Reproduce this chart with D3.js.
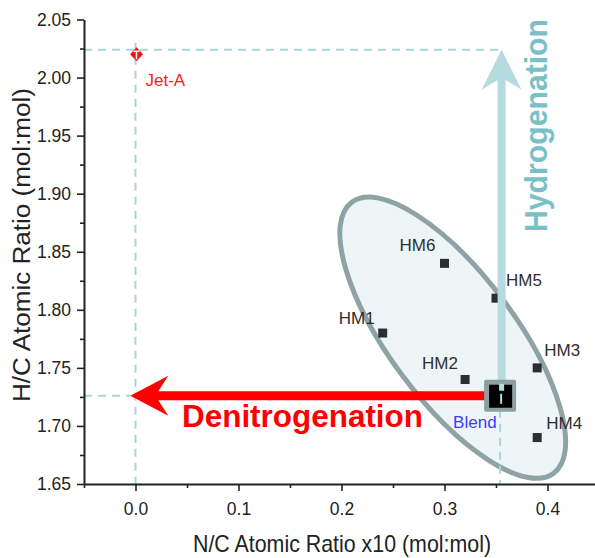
<!DOCTYPE html>
<html>
<head>
<meta charset="utf-8">
<script src="https://cdn.jsdelivr.net/npm/d3@7"></script>
<style>
  body { margin: 0; background: #fff; }
  svg { display: block; font-family: "Liberation Sans", Arial, sans-serif; }
</style>
</head>
<body>
<div id="chart"></div>
<script>
// sample points
const sampleNames = ["HM1", "HM2", "HM3", "HM4", "HM5", "HM6"]
const sampleNC = [0.24, 0.32, 0.39, 0.39, 0.35, 0.30]
const sampleHC = [1.78, 1.74, 1.75, 1.69, 1.81, 1.84]

// reference fuels
const jetA = { name: "Jet-A", nc: 0.0, hc: 2.02 }
const blend = { name: "Blend", nc: 0.354, hc: 1.726 }

// arrow end values
const hydroTargetHC = 2.024
const denitTargetNC = -0.005

// cluster ellipse centre
const clusterNC = 0.308
const clusterHC = 1.776

const xTicks = [0.0, 0.1, 0.2, 0.3, 0.4]
const xMinor = [-0.05, 0.05, 0.15, 0.25, 0.35, 0.45]
const yTicks = [1.65, 1.70, 1.75, 1.80, 1.85, 1.90, 1.95, 2.00, 2.05]
const yMinor = [1.675, 1.725, 1.775, 1.825, 1.875, 1.925, 1.975, 2.025]

const W = 595, H = 558

const svg = d3.select("#chart").append("svg")
    .attr("width", W)
    .attr("height", H)

const x = d3.scaleLinear().domain([-0.05, 0.45]).range([84, 599])
const y = d3.scaleLinear().domain([1.65, 2.05]).range([484, 19.5])

const dashColor = "#a9d5dc"
const ellStroke = "#8ea3a5"

// label offsets (px) from each marker
const labelOffset = {
    HM1: [-44, -9], HM2: [-43, -10], HM3: [7, -12], HM4: [9, -9],
    HM5: [10, -12], HM6: [-45, -12]
}

function arrowPath(tail, tip, headLen, headHalf, notch, shaftHalf) {
    const dx = tip[0] - tail[0], dy = tip[1] - tail[1]
    const len = Math.hypot(dx, dy)
    const d = [dx / len, dy / len]
    const p = [-d[1], d[0]]
    const at = (base, along, side) => [base[0] + d[0] * along + p[0] * side,
                                       base[1] + d[1] * along + p[1] * side]
    const neck = headLen - notch + notch * shaftHalf / headHalf
    const pts = [
        at(tail, 0, shaftHalf),
        at(tip, -neck, shaftHalf),
        at(tip, -headLen, headHalf),
        tip,
        at(tip, -headLen, -headHalf),
        at(tip, -neck, -shaftHalf),
        at(tail, 0, -shaftHalf)
    ]
    return "M" + pts.map(q => q[0].toFixed(1) + "," + q[1].toFixed(1)).join("L") + "Z"
}

// ellipse fill
const ell = svg.append("g")
    .attr("transform", `translate(${x(clusterNC)},${y(clusterHC)}) rotate(53.3)`)
ell.append("ellipse")
    .attr("rx", 169).attr("ry", 63)
    .style("fill", "#eef5f7")

// sample labels
svg.append("g").selectAll("text")
    .data(sampleNames)
    .join("text")
    .attr("x", (d, i) => x(sampleNC[i]) + labelOffset[d][0])
    .attr("y", (d, i) => y(sampleHC[i]) + labelOffset[d][1])
    .style("font-size", "17px")
    .style("fill", "#2e2e2e")
    .text(d => d)

// ellipse outline
ell.append("ellipse")
    .attr("rx", 169).attr("ry", 63)
    .style("fill", "none")
    .style("stroke", ellStroke)
    .style("stroke-width", 5)

// dashed guide lines
const guides = [
    [x.domain()[0], hydroTargetHC, blend.nc, hydroTargetHC],
    [jetA.nc, 2.03, jetA.nc, 1.65],
    [x.domain()[0], blend.hc, denitTargetNC, blend.hc],
    [blend.nc, blend.hc, blend.nc, 1.65]
]
svg.append("g").selectAll("line")
    .data(guides)
    .join("line")
    .attr("x1", d => x(d[0])).attr("y1", d => y(d[1]))
    .attr("x2", d => x(d[2])).attr("y2", d => y(d[3]))
    .style("stroke", dashColor)
    .style("stroke-width", 2)
    .style("stroke-dasharray", "8,6")

// sample markers
svg.append("g").selectAll("rect")
    .data(sampleNames)
    .join("rect")
    .attr("x", (d, i) => x(sampleNC[i]) - 4.5)
    .attr("y", (d, i) => y(sampleHC[i]) - 4.5)
    .attr("width", 9).attr("height", 9)
    .style("fill", "#2b2f31")

// hydrogenation arrow
const bx = x(blend.nc), by = y(blend.hc)
svg.append("path")
    .attr("d", arrowPath([bx + 1.5, by - 4], [bx + 1.5, y(hydroTargetHC)], 40, 20, 12, 4))
    .style("fill", "#b5dbe0")

// denitrogenation arrow
svg.append("path")
    .attr("d", arrowPath([bx - 10, by], [x(denitTargetNC), by], 38, 20, 13, 4.5))
    .style("fill", "#ff0000")

// blend marker
svg.append("rect")
    .attr("x", bx - 16).attr("y", by - 16)
    .attr("width", 32).attr("height", 32)
    .attr("rx", 2)
    .style("fill", "#8d9fa1")
svg.append("rect")
    .attr("x", bx - 11).attr("y", by - 11)
    .attr("width", 23).attr("height", 23)
    .style("fill", "#000")
svg.append("line")
    .attr("x1", bx + 1.5).attr("y1", by - 12)
    .attr("x2", bx + 1.5).attr("y2", by - 5)
    .style("stroke", "#b5dbe0").style("stroke-width", 5)
svg.append("line")
    .attr("x1", bx + 1).attr("y1", by - 2)
    .attr("x2", bx + 1).attr("y2", by + 8)
    .style("stroke", "#b5dbe0").style("stroke-width", 2)

svg.append("text")
    .attr("x", bx - 47).attr("y", by + 32)
    .style("font-size", "17px")
    .style("fill", "#3c3cff")
    .text(blend.name)

// Jet-A marker
const jx = x(jetA.nc) + 1, jy = y(jetA.hc)
svg.append("path")
    .attr("d", `M${jx},${jy - 7}L${jx + 6.5},${jy}L${jx},${jy + 7}L${jx - 6.5},${jy}Z`)
    .style("fill", "#ff1010")
svg.append("path")
    .attr("d", `M${jx},${jy - 3}V${jy + 5}M${jx - 3},${jy - 3}H${jx + 3}`)
    .style("stroke", "#fff").style("stroke-width", 1.5).style("fill", "none")
svg.append("text")
    .attr("x", jx + 9).attr("y", jy + 32)
    .style("font-size", "17px")
    .style("fill", "#ff1a1a")
    .text(jetA.name)

// big annotations
svg.append("text")
    .attr("x", 182).attr("y", 427)
    .attr("textLength", 241)
    .attr("lengthAdjust", "spacingAndGlyphs")
    .style("font-size", "31px")
    .style("font-weight", "bold")
    .style("fill", "#ff0000")
    .text("Denitrogenation")

svg.append("text")
    .attr("transform", "translate(546.5,232) rotate(-90)")
    .attr("textLength", 213)
    .attr("lengthAdjust", "spacingAndGlyphs")
    .style("font-size", "31px")
    .style("font-weight", "bold")
    .style("fill", "#79c1c7")
    .text("Hydrogenation")

// axes
svg.append("g")
    .attr("transform", `translate(0,${y.range()[0]})`)
    .call(d3.axisBottom(x).tickValues(xTicks).tickFormat(d3.format(".1f"))
        .tickSize(7).tickSizeOuter(0).tickPadding(12))
svg.append("g")
    .attr("transform", `translate(0,${y.range()[0]})`)
    .call(d3.axisBottom(x).tickValues(xMinor).tickFormat("").tickSize(4).tickSizeOuter(0))
    .select(".domain").remove()

svg.append("g")
    .attr("transform", `translate(${x.range()[0]},0)`)
    .call(d3.axisLeft(y).tickValues(yTicks).tickFormat(d3.format(".2f"))
        .tickSize(7).tickSizeOuter(0).tickPadding(6))
svg.append("g")
    .attr("transform", `translate(${x.range()[0]},0)`)
    .call(d3.axisLeft(y).tickValues(yMinor).tickFormat("").tickSize(4).tickSizeOuter(0))
    .select(".domain").remove()

svg.selectAll(".domain").style("stroke", "#222").style("stroke-width", 2)
svg.selectAll(".tick line").style("stroke", "#222").style("stroke-width", 1.6)
svg.selectAll(".tick text")
    .style("font-family", "'Liberation Sans', Arial, sans-serif")
    .style("font-size", "17.5px")
    .style("fill", "#222")

// axis titles
svg.append("text")
    .attr("x", 342).attr("y", 552)
    .attr("text-anchor", "middle")
    .attr("textLength", 298)
    .attr("lengthAdjust", "spacingAndGlyphs")
    .style("font-size", "24px")
    .style("fill", "#222")
    .text("N/C Atomic Ratio x10 (mol:mol)")

svg.append("text")
    .attr("transform", "translate(30,245) rotate(-90)")
    .attr("text-anchor", "middle")
    .attr("textLength", 314)
    .attr("lengthAdjust", "spacingAndGlyphs")
    .style("font-size", "23px")
    .style("fill", "#222")
    .text("H/C Atomic Ratio (mol:mol)")
</script>
</body>
</html>
